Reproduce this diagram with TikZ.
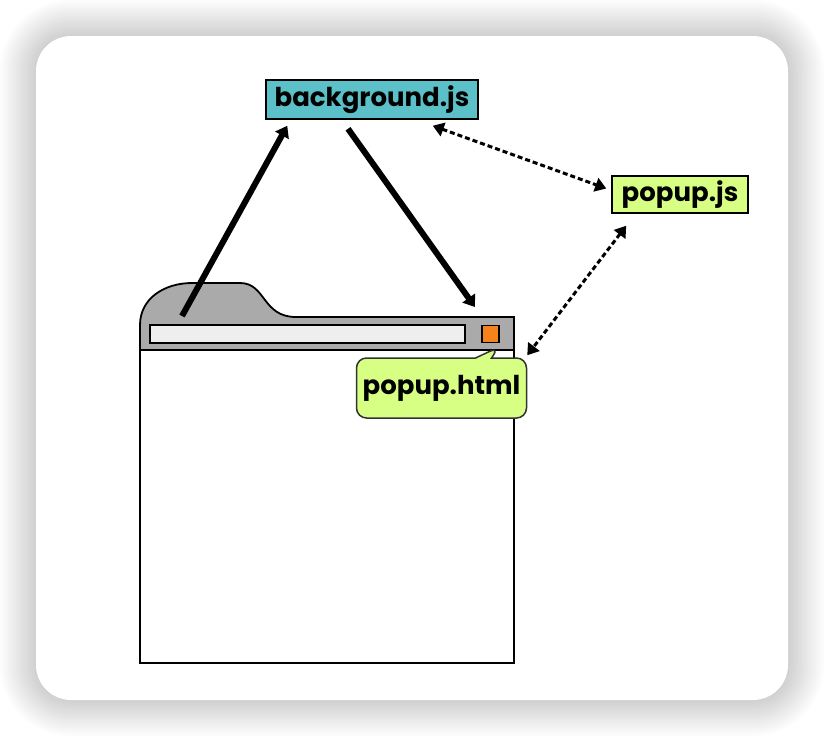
\documentclass[tikz,border=0pt]{standalone}
\usepackage{fontspec}
\setmainfont{Poppins}
\usetikzlibrary{positioning,arrows.meta,shapes.callouts}
\definecolor{jsteal}{RGB}{92,192,200}
\definecolor{jslime}{RGB}{214,255,132}
\definecolor{tabgray}{RGB}{170,170,170}
\definecolor{barwhite}{RGB}{238,238,238}
\definecolor{btnorange}{RGB}{246,130,30}
\begin{document}
\begin{tikzpicture}[x=1pt,y=-1pt,
every node/.style={font=\fontsize{26}{30}\selectfont\bfseries, inner sep=0pt},
file/.style={draw, line width=1.5pt, rectangle},
bigarrow/.style={line width=6pt, -{Triangle[length=11pt,width=15pt]}},
talk/.style={line width=3pt, dash pattern=on 5pt off 3pt, {Triangle[length=11pt,width=14pt]}-{Triangle[length=11pt,width=14pt]}}]
\useasboundingbox (0,0) rectangle (824,736);
\fill[white] (0,0) rectangle (824,736);
\foreach \i [evaluate=\i as \g using int(19-\i)] in {18,...,1}
  \fill[black!\g, rounded corners=35+2*\i] (36-2*\i,36-2*\i) rectangle (788+2*\i,700+2*\i);
\fill[white, rounded corners=35] (36,36) rectangle (788,700);
\draw[line width=2pt, fill=white] (140,350) rectangle (514,663);
\draw[line width=1.8pt, fill=tabgray] (140,350) -- (140,325) .. controls (140,298) and (165,283) .. (192,283) -- (240,283) .. controls (266,283) and (262,317) .. (296,317) -- (514,317) -- (514,350) -- cycle;
\draw[line width=1.5pt, fill=barwhite] (150,325) rectangle (465,343);
\node[draw, line width=1.5pt, fill=btnorange, minimum size=17pt] (btn) at (490.5,334) {};
\node[file, fill=jsteal, minimum width=212pt, minimum height=39pt] (bgjs) at (372,99.5) {background.js};
\node[file, fill=jslime, minimum width=136pt, minimum height=37pt] (popjs) at (680,194.5) {popup.js};
\coordinate (tabpt) at (182,316);
\coordinate (btnpt) at (475,307);
\coordinate (tip) at (499,347);
\node[rectangle callout, draw=black!80, line width=1.5pt, fill=jslime, rounded corners=10pt, minimum width=170pt, minimum height=60pt, callout absolute pointer={(tip)}, callout pointer width=16pt] (html) at (441.5,388) {popup.html};
\draw[bigarrow] (tabpt) -- ([xshift=22pt,yshift=-6pt]bgjs.south west);
\draw[bigarrow] ([xshift=-24pt,yshift=-9pt]bgjs.south) -- (btnpt);
\draw[talk] ([xshift=-46pt,yshift=-6pt]bgjs.south east) -- ([xshift=-5pt,yshift=6pt]popjs.west);
\draw[talk] ([xshift=15pt,yshift=-12pt]popjs.south west) -- ([yshift=2pt]html.north east);
\end{tikzpicture}
\end{document}
